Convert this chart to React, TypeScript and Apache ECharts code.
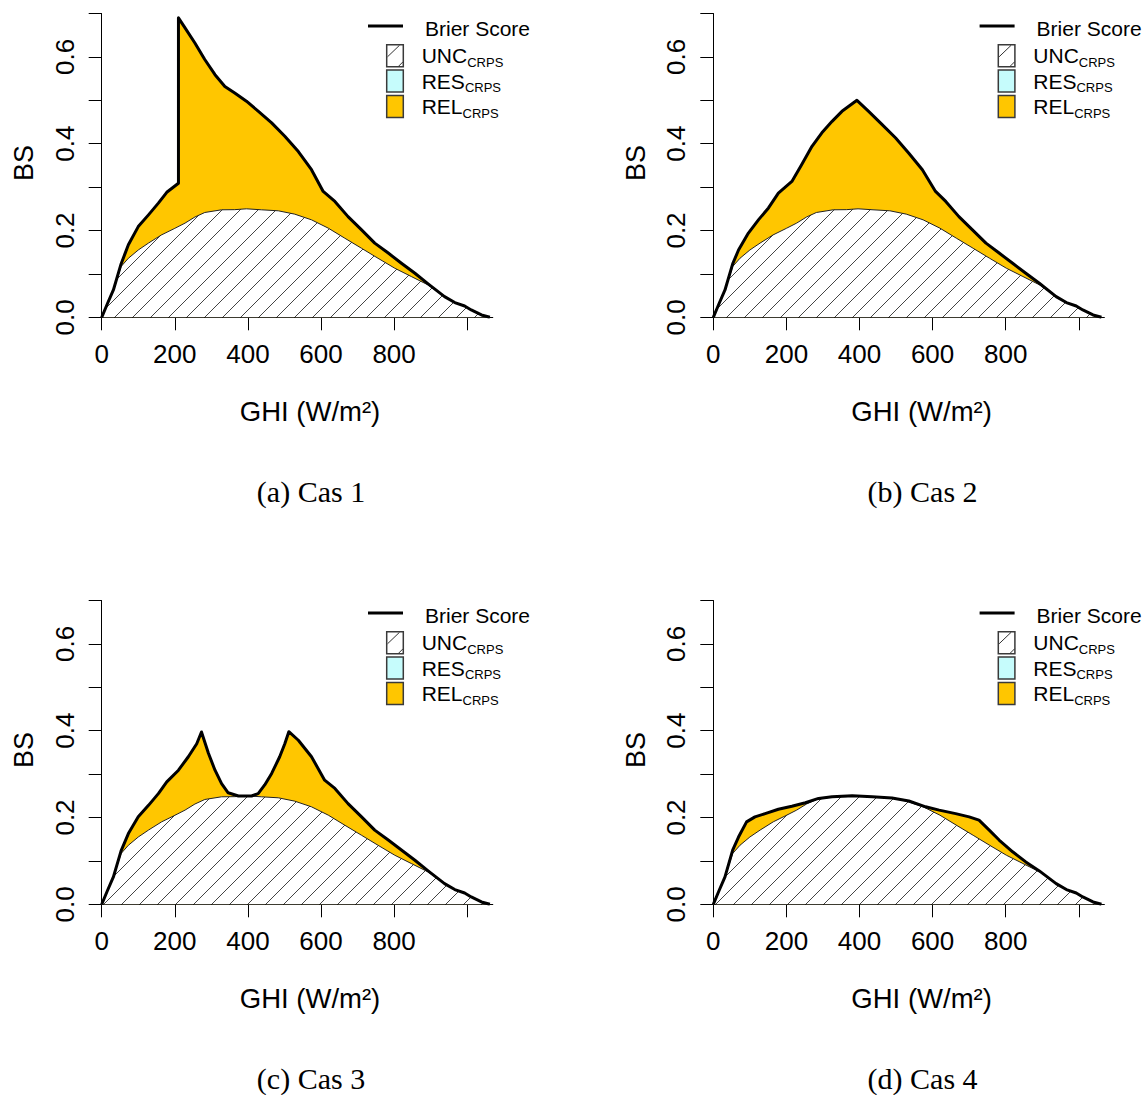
import React, { useEffect, useRef } from 'react';
import * as echarts from 'echarts';

// ---------------- data ----------------
const uncGhi = [0, 15, 32, 53, 73, 100, 128, 164, 200, 228, 255, 282, 328, 364, 396, 437, 483, 528, 574, 620, 665, 711, 756, 802, 847, 893, 938, 966, 993, 1011, 1039, 1062];
const uncVal = [0, 0.03, 0.063, 0.117, 0.136, 0.155, 0.171, 0.19, 0.205, 0.217, 0.231, 0.2415, 0.2477, 0.248, 0.25, 0.2477, 0.2454, 0.2377, 0.2246, 0.2054, 0.1823, 0.159, 0.136, 0.113, 0.094, 0.0746, 0.0477, 0.034, 0.026, 0.017, 0.0054, 0];

const cas1Ghi = [0, 15, 32, 53, 63, 73, 100, 128, 155, 178, 210, 210, 228, 255, 282, 310, 337, 364, 396, 428, 465, 501, 538, 574, 606, 638, 674, 711, 747, 784, 820, 857, 893, 938, 966, 993, 1011, 1039, 1062];
const cas1Bs = [0, 0.03, 0.063, 0.123, 0.145, 0.167, 0.209, 0.236, 0.263, 0.288, 0.309, 0.69, 0.667, 0.632, 0.594, 0.559, 0.532, 0.517, 0.498, 0.475, 0.448, 0.417, 0.382, 0.34, 0.29, 0.267, 0.232, 0.2015, 0.171, 0.148, 0.1246, 0.1015, 0.077, 0.0477, 0.034, 0.026, 0.017, 0.0054, 0];

const cas2Ghi = [0, 15, 32, 53, 69, 96, 124, 151, 178, 215, 242, 270, 297, 325, 352, 393, 425, 462, 499, 535, 572, 608, 636, 672, 709, 746, 782, 819, 855, 892, 938, 966, 993, 1011, 1039, 1062];
const cas2Bs = [0, 0.03, 0.063, 0.123, 0.155, 0.194, 0.225, 0.252, 0.286, 0.313, 0.352, 0.394, 0.425, 0.4515, 0.4746, 0.5, 0.4746, 0.444, 0.413, 0.378, 0.34, 0.29, 0.267, 0.232, 0.2015, 0.171, 0.148, 0.1246, 0.1015, 0.0785, 0.0477, 0.034, 0.026, 0.017, 0.0054, 0];

const cas3Ghi = [0, 15, 32, 53, 73, 100, 128, 155, 178, 210, 237, 260, 273, 292, 310, 328, 346, 374, 410, 428, 446, 465, 487, 501, 512, 538, 574, 610, 638, 674, 711, 747, 784, 820, 857, 893, 938, 966, 993, 1011, 1039, 1062];
const cas3Bs = [0, 0.03, 0.063, 0.123, 0.163, 0.2015, 0.228, 0.255, 0.282, 0.309, 0.34, 0.37, 0.397, 0.348, 0.309, 0.278, 0.257, 0.2495, 0.2495, 0.255, 0.275, 0.3015, 0.34, 0.37, 0.3977, 0.378, 0.34, 0.286, 0.267, 0.232, 0.2015, 0.171, 0.148, 0.125, 0.1015, 0.077, 0.0477, 0.034, 0.026, 0.017, 0.0054, 0];

const cas4Ghi = [0, 15, 32, 53, 69, 91, 114, 142, 178, 215, 252, 288, 325, 380, 435, 489, 535, 581, 618, 663, 700, 727, 755, 782, 819, 855, 892, 938, 966, 993, 1011, 1039, 1062];
const cas4Bs = [0, 0.03, 0.063, 0.125, 0.155, 0.19, 0.2015, 0.209, 0.219, 0.226, 0.234, 0.244, 0.2477, 0.25, 0.2477, 0.245, 0.238, 0.2246, 0.217, 0.209, 0.2015, 0.194, 0.171, 0.148, 0.121, 0.0977, 0.077, 0.0477, 0.034, 0.026, 0.017, 0.0054, 0];

const xTicks = [0, 200, 400, 600, 800, 1000];
const xLabels = [0, 200, 400, 600, 800];
const yTicks = [0, 0.1, 0.2, 0.3, 0.4, 0.5, 0.6, 0.7];
const yLabels = [0, 0.2, 0.4, 0.6];
const captions = ['(a) Cas 1', '(b) Cas 2', '(c) Cas 3', '(d) Cas 4'];
const legendMain = ['UNC', 'RES', 'REL'];
const legendSub = 'CRPS';
const lineLegend = 'Brier Score';
const xTitle = 'GHI (W/m\u00B2)';
const yTitle = 'BS';

// ---------------- style ----------------
const SANS = '"Liberation Sans", Arial, Helvetica, sans-serif';
const SERIF = '"Liberation Serif", "Times New Roman", serif';
const YELLOW = '#FFC600';
const CYAN = '#C6FCFC';

const zip = (x: number[], y: number[]) => x.map((v, i) => [v, y[i]]);

function makeHatch(): string {
  const c = document.createElement('canvas');
  c.width = 18;
  c.height = 18;
  const ctx = c.getContext('2d')!;
  ctx.fillStyle = '#ffffff';
  ctx.fillRect(0, 0, 18, 18);
  ctx.strokeStyle = '#444444';
  ctx.lineWidth = 1;
  for (const k of [-18, 0, 18]) {
    ctx.beginPath();
    ctx.moveTo(k - 1, 19);
    ctx.lineTo(k + 19, -1);
    ctx.stroke();
  }
  return c.toDataURL();
}

function measure(text: string, font: string): number {
  const c = document.createElement('canvas');
  const ctx = c.getContext('2d')!;
  ctx.font = font;
  return ctx.measureText(text).width;
}

export default function App() {
  const ref = useRef<HTMLDivElement>(null);

  useEffect(() => {
    const el = ref.current!;
    const chart = echarts.init(el, null, { renderer: 'svg' });
    const hatch = makeHatch();
    const hatchFill: any = { image: hatch, repeat: 'repeat', imageWidth: 18, imageHeight: 18 };

    const GW = 1070 * 0.3655;
    const GH = 303.8;
    const panels = [
      { left: 101.7, top: 13.5, ghi: cas1Ghi, bs: cas1Bs },
      { left: 713.3, top: 13.5, ghi: cas2Ghi, bs: cas2Bs },
      { left: 101.7, top: 600.5, ghi: cas3Ghi, bs: cas3Bs },
      { left: 713.3, top: 600.5, ghi: cas4Ghi, bs: cas4Bs },
    ];

    const grids: any[] = [];
    const xAxes: any[] = [];
    const yAxes: any[] = [];
    const series: any[] = [];
    const graphics: any[] = [];

    const mainFont = `21px ${SANS}`;

    panels.forEach((p, i) => {
      grids.push({ left: p.left, top: p.top, width: GW, height: GH, containLabel: false });
      xAxes.push({
        type: 'value', gridIndex: i, min: 0, max: 1070,
        splitLine: { show: false },
        axisLine: { show: true, lineStyle: { color: '#000', width: 1 } },
        axisTick: { show: true, length: 13, customValues: xTicks, lineStyle: { color: '#000', width: 1 } },
        axisLabel: { show: true, customValues: xLabels, margin: 24, fontSize: 26, fontFamily: SANS, color: '#000' },
      });
      yAxes.push({
        type: 'value', gridIndex: i, min: 0, max: 0.7,
        splitLine: { show: false },
        axisLine: { show: true, lineStyle: { color: '#000', width: 1 } },
        axisTick: { show: true, length: 13, customValues: yTicks, lineStyle: { color: '#000', width: 1 } },
        axisLabel: {
          show: true, customValues: yLabels, rotate: 90, margin: 24, fontSize: 26, fontFamily: SANS, color: '#000',
          formatter: (v: number) => v.toFixed(1),
        },
      });
      const bsData = zip(p.ghi, p.bs);
      series.push({
        type: 'line', xAxisIndex: i, yAxisIndex: i, data: bsData, showSymbol: false, symbol: 'none',
        lineStyle: { width: 0, opacity: 0 }, areaStyle: { color: YELLOW, opacity: 1 }, z: 1, silent: true,
      });
      series.push({
        type: 'line', xAxisIndex: i, yAxisIndex: i, data: zip(uncGhi, uncVal), showSymbol: false, symbol: 'none',
        lineStyle: { width: 1, color: '#222' }, areaStyle: { color: hatchFill, opacity: 1 }, z: 2, silent: true,
      });
      series.push({
        type: 'line', xAxisIndex: i, yAxisIndex: i, data: bsData, showSymbol: false, symbol: 'none',
        lineStyle: { width: 3, color: '#000', join: 'round' }, z: 3, silent: true,
      });

      const dx = p.left - 101.7;
      const dy = p.top - 13.5;

      graphics.push({
        type: 'text', x: 24 + dx, y: 163 + dy, rotation: Math.PI / 2,
        style: { text: yTitle, fontSize: 27, fontFamily: SANS, fill: '#000', align: 'center', verticalAlign: 'middle', textAlign: 'center', textVerticalAlign: 'middle' },
      });
      graphics.push({
        type: 'text', x: 310 + dx, y: 411 + dy,
        style: { text: xTitle, fontSize: 27.5, fontFamily: SANS, fill: '#000', align: 'center', verticalAlign: 'middle', textAlign: 'center', textVerticalAlign: 'middle' },
      });
      graphics.push({
        type: 'text', x: 311 + dx, y: 491 + dy,
        style: { text: captions[i], fontSize: 30, fontFamily: SERIF, fill: '#000', align: 'center', verticalAlign: 'middle', textAlign: 'center', textVerticalAlign: 'middle' },
      });
      // legend
      graphics.push({
        type: 'line', shape: { x1: 368 + dx, y1: 26 + dy, x2: 403 + dx, y2: 26 + dy },
        style: { stroke: '#000', lineWidth: 3 },
      });
      graphics.push({
        type: 'text', x: 425 + dx, y: 28 + dy,
        style: { text: lineLegend, fontSize: 21, fontFamily: SANS, fill: '#000', align: 'left', verticalAlign: 'middle', textAlign: 'left', textVerticalAlign: 'middle' },
      });
      const centers = [55.8, 81, 106.5];
      const fills = ['#ffffff', CYAN, YELLOW];
      centers.forEach((cy, k) => {
        graphics.push({
          type: 'rect', shape: { x: 386.7 + dx, y: cy - 11 + dy, width: 16.6, height: 22 },
          style: { fill: fills[k], stroke: '#3a3a3a', lineWidth: 1.5 },
        });
        if (k === 0) {
          graphics.push({ type: 'line', shape: { x1: 387.5 + dx, y1: cy + 1 + dy, x2: 399.5 + dx, y2: cy - 10.5 + dy }, style: { stroke: '#333', lineWidth: 1 } });
          graphics.push({ type: 'line', shape: { x1: 398.5 + dx, y1: cy + 10.5 + dy, x2: 403 + dx, y2: cy + 6 + dy }, style: { stroke: '#333', lineWidth: 1 } });
        }
        const w = measure(legendMain[k], mainFont);
        graphics.push({
          type: 'text', x: 421.7 + dx, y: cy + dy,
          style: { text: legendMain[k], fontSize: 21, fontFamily: SANS, fill: '#000', align: 'left', verticalAlign: 'middle', textAlign: 'left', textVerticalAlign: 'middle' },
        });
        graphics.push({
          type: 'text', x: 421.7 + w + dx, y: cy + 6.5 + dy,
          style: { text: legendSub, fontSize: 13, fontFamily: SANS, fill: '#000', align: 'left', verticalAlign: 'middle', textAlign: 'left', textVerticalAlign: 'middle' },
        });
      });
    });

    chart.setOption({
      animation: false,
      backgroundColor: '#ffffff',
      grid: grids,
      xAxis: xAxes,
      yAxis: yAxes,
      series,
      graphic: { elements: graphics },
    });

    return () => chart.dispose();
  }, []);

  return (
    <div
      ref={ref}
      style={{ position: 'absolute', left: 0, top: 0, width: 1143, height: 1095, background: '#fff' }}
    />
  );
}
